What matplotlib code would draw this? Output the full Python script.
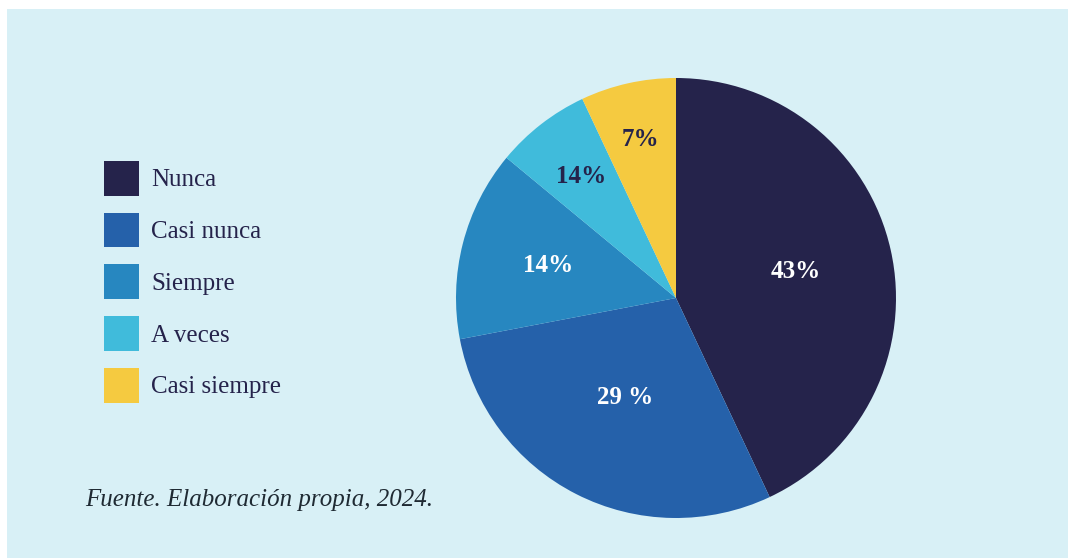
#!/usr/bin/env python3
"""Pie chart: frecuencia de respuestas (Fuente. Elaboración propia, 2024)."""

import numpy as np
import matplotlib
matplotlib.use("Agg")
import matplotlib.pyplot as plt
from matplotlib.patches import Patch, Rectangle

categories = ["Nunca", "Casi nunca", "Siempre", "A veces", "Casi siempre"]
values = [43, 29, 14, 7, 7]
slice_labels = ["43%", "29 %", "14%", "14%", "7%"]
colors = ["#25234b", "#2561aa", "#2787c0", "#40bbdb", "#f5ca40"]
label_colors = ["white", "white", "white", "#25234b", "#25234b"]
label_radius = [0.56, 0.51, 0.60, 0.70, 0.74]

BG = "#d8f0f6"
TEXT = "#25234b"
SERIF = ["Liberation Serif", "DejaVu Serif"]

W, H = 1068, 558
fig = plt.figure(figsize=(W / 100, H / 100), dpi=100)
fig.patch.set_facecolor("white")
fig.add_artist(Rectangle((7 / W, 0), 1, 1 - 9 / H, transform=fig.transFigure,
                         facecolor=BG, edgecolor="none", zorder=0))

# pie centred at (676, 298) px, radius 220 px
cx, cy, r = 676, 298, 220
ax = fig.add_axes([(cx - r) / W, (H - cy - r) / H, 2 * r / W, 2 * r / H])
ax.set_facecolor("none")
wedges, _ = ax.pie(values, colors=colors, startangle=90, counterclock=False,
                   wedgeprops=dict(linewidth=0))
ax.set_aspect("equal")
ax.set_xlim(-1, 1)
ax.set_ylim(-1, 1)
ax.axis("off")

for w, lab, col, rad in zip(wedges, slice_labels, label_colors, label_radius):
    ang = np.deg2rad((w.theta1 + w.theta2) / 2)
    ax.text(rad * np.cos(ang), rad * np.sin(ang), lab, ha="center", va="center",
            color=col, fontsize=18, fontweight="bold", family=SERIF)

handles = [Patch(facecolor=c, edgecolor="none") for c in colors]
fig.legend(handles, categories, loc="upper left",
           bbox_to_anchor=(104 / W, 1 - 161 / H), frameon=False,
           borderpad=0, borderaxespad=0, handlelength=1.4, handleheight=1.76,
           labelspacing=0.68, handletextpad=0.48,
           prop=dict(family=SERIF, size=18), labelcolor=TEXT)

fig.text(85 / W, 1 - 500 / H, "Fuente. Elaboración propia, 2024.",
         ha="left", va="center", fontsize=18, style="italic",
         family=SERIF, color="#1f2a33")

fig.savefig("out.png", dpi=100, facecolor=fig.get_facecolor())
